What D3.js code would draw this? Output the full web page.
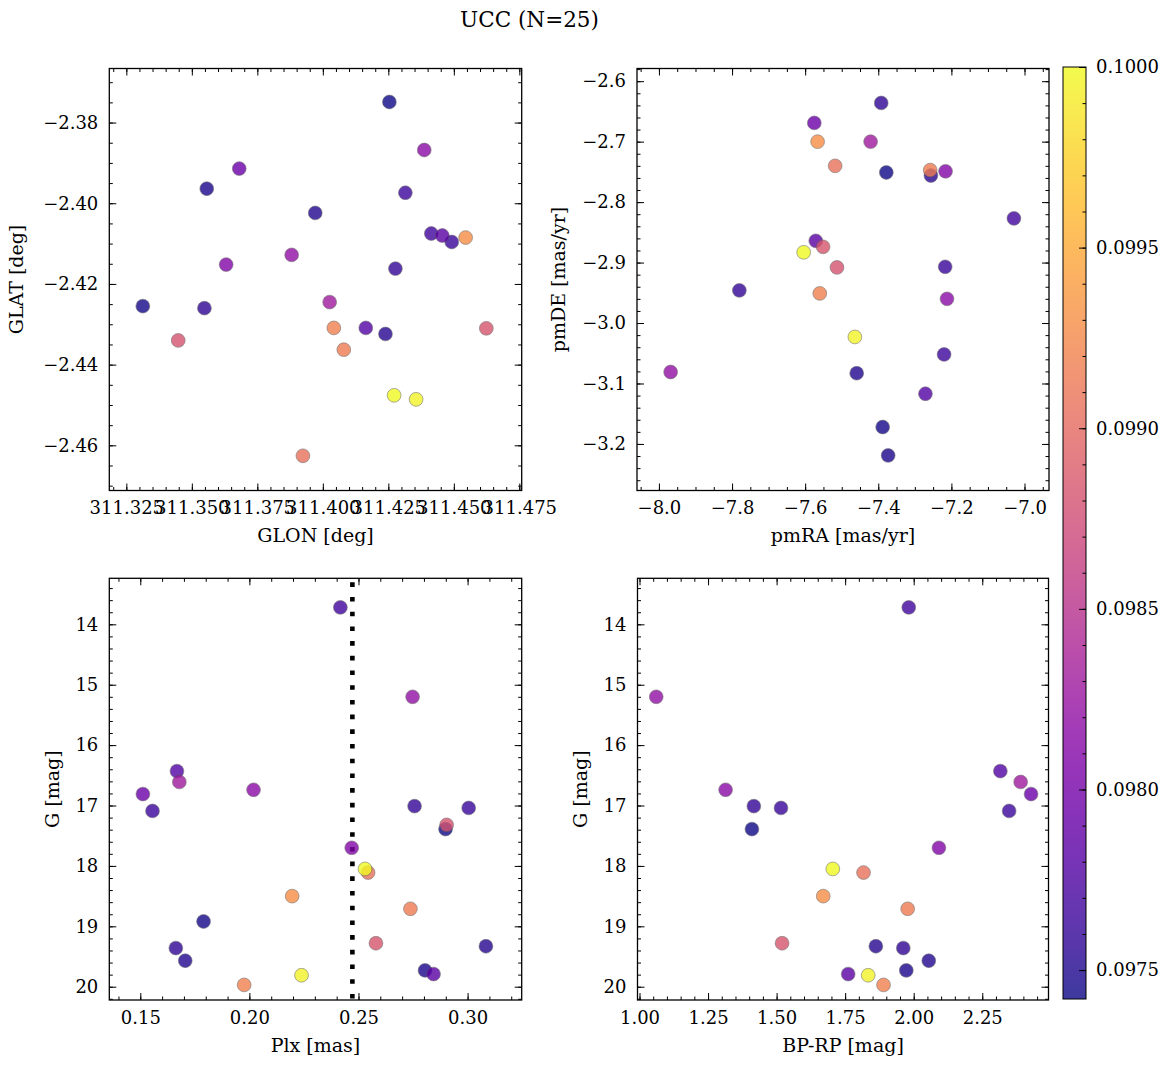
<!DOCTYPE html>
<html><head><meta charset="utf-8">
<script src="https://cdn.jsdelivr.net/npm/d3@7"></script>
<style>
body{margin:0;background:#fff}
svg{display:block}
text{font-family:"DejaVu Serif",serif;fill:#000}
</style>
</head><body>
<svg id="c" width="1173" height="1067"></svg>
<script>
// ---- data (sorted by membership probability) ----
const glon = [311.4254,311.3313,311.3557,311.3971,311.4239,311.3548,311.4277,311.4492,311.4315,311.4414,
              311.4164,311.4456,311.3681,311.3631,311.4387,311.3881,311.4026,311.3448,311.4624,311.3924,
              311.4080,311.4042,311.4545,311.4356,311.4272];
const glat = [-2.3749,-2.4255,-2.3964,-2.4024,-2.4324,-2.4260,-2.4162,-2.4096,-2.3974,-2.4075,
              -2.4309,-2.4080,-2.3914,-2.4152,-2.3868,-2.4128,-2.4245,-2.4340,-2.4310,-2.4626,
              -2.4363,-2.4309,-2.4085,-2.4486,-2.4476];
const pmra = [-7.378,-7.388,-7.373,-7.459,-7.256,-7.392,-7.780,-7.217,-7.220,-7.029,
              -7.271,-7.571,-7.575,-7.216,-7.212,-7.968,-7.421,-7.513,-7.551,-7.518,
              -7.258,-7.560,-7.566,-7.464,-7.604];
const pmde = [-2.751,-3.172,-3.219,-3.083,-2.756,-2.636,-2.946,-2.907,-3.052,-2.827,
              -3.117,-2.864,-2.669,-2.749,-2.960,-3.081,-2.700,-2.908,-2.874,-2.740,
              -2.747,-2.951,-2.700,-3.023,-2.883];
const plx  = [0.2899,0.1790,0.2805,0.1706,0.3084,0.1663,0.2757,0.3005,0.1556,0.2417,
              0.1668,0.2844,0.1512,0.2469,0.2019,0.2748,0.1679,0.2904,0.2580,0.2544,
              0.2738,0.1976,0.2196,0.2239,0.2530];
const gmag = [17.39,18.92,19.73,19.57,19.33,19.36,17.01,17.04,17.09,13.72,
              16.43,19.79,16.81,17.70,16.74,15.20,16.61,17.32,19.28,18.11,
              18.71,19.97,18.50,19.81,18.05];
const bprp = [1.410,NaN,1.973,2.055,1.862,1.962,1.417,1.516,2.348,1.982,
              2.316,1.761,2.428,2.092,1.314,1.061,2.390,NaN,1.520,1.817,
              1.978,1.890,1.670,1.834,1.705];
const prob = [0.09742,0.09745,0.09748,0.09750,0.09753,0.09758,0.09760,0.09763,0.09765,0.09768,
              0.09778,0.09784,0.09794,0.09809,0.09815,0.09820,0.09830,0.09881,0.09884,0.09907,
              0.09915,0.09920,0.09930,0.09995,0.10000];
const plxMedian = 0.2472;

const glonTicks = [311.325,311.350,311.375,311.400,311.425,311.450,311.475];
const glatTicks = [-2.38,-2.40,-2.42,-2.44,-2.46];
const pmraTicks = [-8.0,-7.8,-7.6,-7.4,-7.2,-7.0];
const pmdeTicks = [-2.6,-2.7,-2.8,-2.9,-3.0,-3.1,-3.2];
const plxTicks  = [0.15,0.20,0.25,0.30];
const gTicks    = [14,15,16,17,18,19,20];
const bprpTicks = [1.00,1.25,1.50,1.75,2.00,2.25];
const cbTicks   = [0.0975,0.0980,0.0985,0.0990,0.0995,0.1000];

// ---- drawing ----
const svg = d3.select("#c");
svg.append("rect").attr("width",1173).attr("height",1067).attr("fill","#fff");
const TICK = 18, LAB = 19;
const MAJ = 7, MIN = 3.5;
const ALPHA = 0.8;
const cExt = d3.extent(prob);
const color = d3.scaleSequential(d3.interpolatePlasma).domain(cExt);

function minor(dom, step){
  const lo = Math.min(dom[0],dom[1]), hi = Math.max(dom[0],dom[1]);
  const out = [];
  for(let k=Math.ceil(lo/step-1e-6); k*step<=hi+1e-9; k++) out.push(+(k*step).toFixed(8));
  return out;
}

function panel(c){
  const x = d3.scaleLinear().domain(c.xdom).range([c.L,c.R]);
  const y = d3.scaleLinear().domain(c.ydom).range([c.B,c.T]);
  const g = svg.append("g");
  const idx = d3.range(c.xs.length).filter(i=>isFinite(c.xs[i]) && isFinite(c.ys[i]));

  if(c.extra) c.extra(g,x,y);

  g.append("g").selectAll("circle").data(idx).join("circle")
    .attr("cx",i=>x(c.xs[i])).attr("cy",i=>y(c.ys[i])).attr("r",6.9)
    .attr("fill",i=>color(prob[i])).attr("stroke","#555").attr("stroke-width",0.6)
    .attr("opacity",ALPHA);

  const xm = minor(c.xdom,c.xMinor), ym = minor(c.ydom,c.yMinor);
  const style = sel => { sel.select(".domain").remove(); sel.selectAll("line").attr("stroke","#000").attr("stroke-width",1); sel.selectAll("text").attr("font-size",TICK).attr("font-family","DejaVu Serif"); };
  g.append("g").attr("transform",`translate(0,${c.B})`).call(d3.axisBottom(x).tickValues(c.xTicks).tickFormat(c.xFmt).tickSize(-MAJ).tickPadding(11)).call(style);
  g.append("g").attr("transform",`translate(0,${c.B})`).call(d3.axisBottom(x).tickValues(xm).tickFormat("").tickSize(-MIN)).call(style);
  g.append("g").attr("transform",`translate(0,${c.T})`).call(d3.axisTop(x).tickValues(c.xTicks).tickFormat("").tickSize(-MAJ)).call(style);
  g.append("g").attr("transform",`translate(0,${c.T})`).call(d3.axisTop(x).tickValues(xm).tickFormat("").tickSize(-MIN)).call(style);
  g.append("g").attr("transform",`translate(${c.L},0)`).call(d3.axisLeft(y).tickValues(c.yTicks).tickFormat(c.yFmt).tickSize(-MAJ).tickPadding(11)).call(style);
  g.append("g").attr("transform",`translate(${c.L},0)`).call(d3.axisLeft(y).tickValues(ym).tickFormat("").tickSize(-MIN)).call(style);
  g.append("g").attr("transform",`translate(${c.R},0)`).call(d3.axisRight(y).tickValues(c.yTicks).tickFormat("").tickSize(-MAJ)).call(style);
  g.append("g").attr("transform",`translate(${c.R},0)`).call(d3.axisRight(y).tickValues(ym).tickFormat("").tickSize(-MIN)).call(style);

  g.append("rect").attr("x",c.L).attr("y",c.T).attr("width",c.R-c.L).attr("height",c.B-c.T)
    .attr("fill","none").attr("stroke","#000").attr("stroke-width",1.3);

  g.append("text").attr("x",(c.L+c.R)/2).attr("y",c.B+51.5).attr("text-anchor","middle")
    .attr("font-size",LAB).text(c.xLabel);
  g.append("text").attr("transform",`translate(${c.yLabX},${(c.T+c.B)/2}) rotate(-90)`)
    .attr("text-anchor","middle").attr("dy","0.35em").attr("font-size",LAB).text(c.yLabel);
}

const T1=68.5, B1=490.5, T2=578.3, B2=1000;
const L1=109.3, R1=521.7, L2=637, R2=1049;

panel({L:L1,R:R1,T:T1,B:B1, xdom:[311.3185,311.4759], ydom:[-2.4712,-2.3666],
  xs:glon, ys:glat, xTicks:glonTicks, yTicks:glatTicks, xMinor:0.005, yMinor:0.005,
  xFmt:d3.format(".3f"), yFmt:d3.format(".2f"), xLabel:"GLON [deg]", yLabel:"GLAT [deg]", yLabX:16.7});

panel({L:L2,R:R2,T:T1,B:B1, xdom:[-8.060,-6.933], ydom:[-3.277,-2.579],
  xs:pmra, ys:pmde, xTicks:pmraTicks, yTicks:pmdeTicks, xMinor:0.05, yMinor:0.02,
  xFmt:d3.format(".1f"), yFmt:d3.format(".1f"), xLabel:"pmRA [mas/yr]", yLabel:"pmDE [mas/yr]", yLabX:558.7});

panel({L:L1,R:R1,T:T2,B:B2, xdom:[0.1358,0.3248], ydom:[20.22,13.238],
  xs:plx, ys:gmag, xTicks:plxTicks, yTicks:gTicks, xMinor:0.01, yMinor:0.2,
  xFmt:d3.format(".2f"), yFmt:d3.format("d"), xLabel:"Plx [mas]", yLabel:"G [mag]", yLabX:52,
  extra:(g,x,y)=>{
    g.append("line").attr("x1",x(plxMedian)).attr("x2",x(plxMedian)).attr("y1",y(13.238)).attr("y2",y(20.22))
      .attr("stroke","#000").attr("stroke-width",4.6).attr("stroke-dasharray","4.6,10.1").attr("stroke-dashoffset",-4);
  }});

panel({L:L2+0.5,R:R2-0.5,T:T2,B:B2, xdom:[0.9927,2.4916], ydom:[20.22,13.238],
  xs:bprp, ys:gmag, xTicks:bprpTicks, yTicks:gTicks, xMinor:0.05, yMinor:0.2,
  xFmt:d3.format(".2f"), yFmt:d3.format("d"), xLabel:"BP-RP [mag]", yLabel:"G [mag]", yLabX:580.7});

// ---- colorbar ----
const cbL=1063, cbR=1086, cbT=67, cbB=999;
const cy = d3.scaleLinear().domain(cExt).range([cbB,cbT]);
const defs = svg.append("defs");
const grad = defs.append("linearGradient").attr("id","cbg").attr("x1",0).attr("x2",0).attr("y1",1).attr("y2",0);
d3.range(0,1.0001,0.05).forEach(t=>grad.append("stop").attr("offset",t).attr("stop-color",d3.interpolatePlasma(t)));
svg.append("rect").attr("x",cbL).attr("y",cbT).attr("width",cbR-cbL).attr("height",cbB-cbT)
  .attr("fill","url(#cbg)").attr("opacity",ALPHA);
const cb = svg.append("g").attr("transform",`translate(${cbR},0)`);
const cbStyle = sel => { sel.select(".domain").remove(); sel.selectAll("line").attr("stroke","#000").attr("stroke-width",1); sel.selectAll("text").attr("font-size",TICK).attr("font-family","DejaVu Serif"); };
cb.append("g").call(d3.axisRight(cy).tickValues(cbTicks).tickFormat(d3.format(".4f")).tickSize(-MAJ).tickPadding(10)).call(cbStyle);
cb.append("g").call(d3.axisRight(cy).tickValues(minor(cExt,0.0001)).tickFormat("").tickSize(-MIN)).call(cbStyle);
svg.append("rect").attr("x",cbL).attr("y",cbT).attr("width",cbR-cbL).attr("height",cbB-cbT)
  .attr("fill","none").attr("stroke","#000").attr("stroke-width",1);

// ---- title ----
svg.append("text").attr("x",529.5).attr("y",26.7).attr("text-anchor","middle").attr("font-size",21.5).text("UCC (N=25)");
</script>
</body></html>
